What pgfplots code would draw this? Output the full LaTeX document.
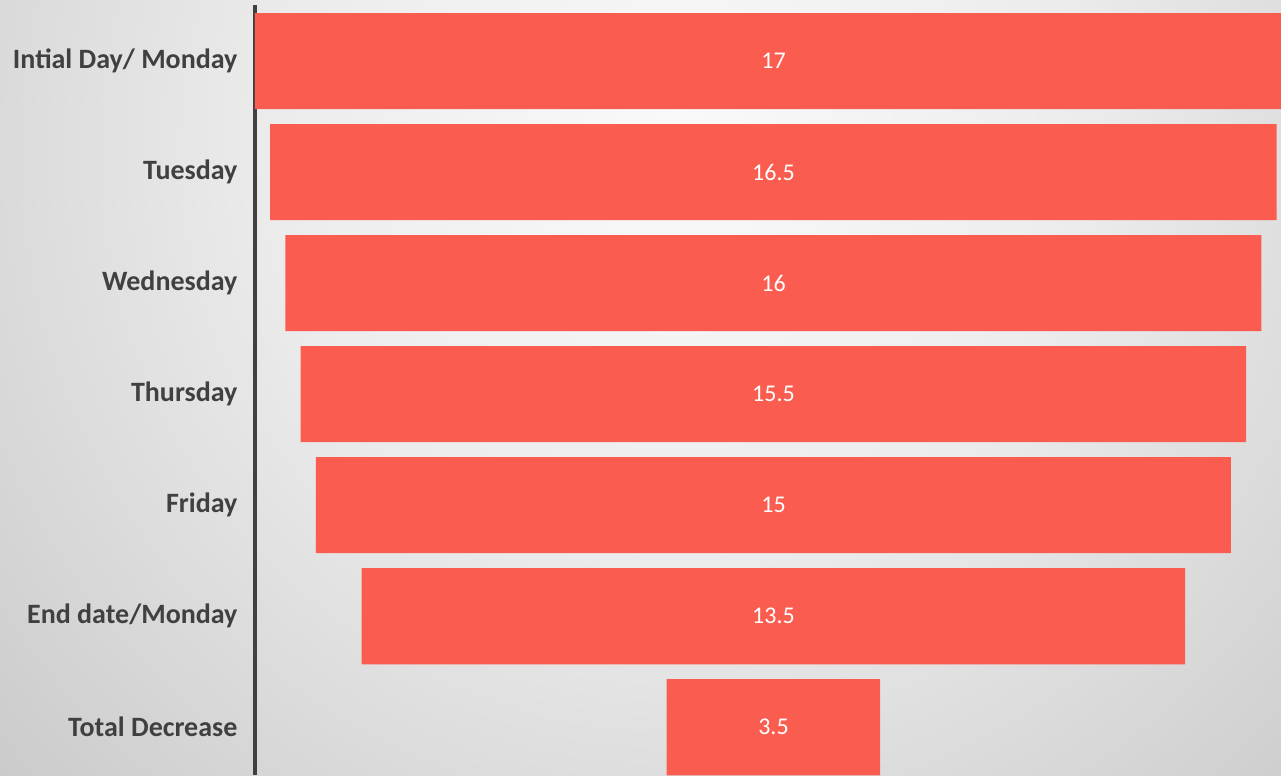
\documentclass[border=0pt]{standalone}
\usepackage{pgfplots}
\usepackage{pgfplotstable}
\pgfplotsset{compat=1.18}
\usepackage{fontspec}
\setmainfont{Carlito}
\definecolor{barred}{HTML}{FA5D50}
\definecolor{labgray}{HTML}{404040}
\definecolor{bg0}{HTML}{FAFAFA}
\definecolor{bg1}{HTML}{ECECEC}
\definecolor{bg2}{HTML}{D6D6D6}
\definecolor{bg3}{HTML}{C6C6C6}
\pgfdeclareradialshading{bgshade}{\pgfpoint{0bp}{0bp}}{color(0bp)=(bg0); color(10bp)=(bg1); color(18.75bp)=(bg2); color(25bp)=(bg3); color(50bp)=(bg3)}

\pgfplotstableread{
i off v c
0 0 17 8.5
1 0.25 16.5 8.5
2 0.5 16 8.5
3 0.75 15.5 8.5
4 1 15 8.5
5 1.75 13.5 8.5
6 6.75 3.5 8.5
}\funnel

\pgfplotsset{funnelaxis/.style={
  at={(191.25pt,0pt)}, anchor=south west, scale only axis,
  width=769.5pt, height=577.5pt,
  xmin=0, xmax=16.82, ymin=-0.505, ymax=6.43, y dir=reverse,
}}

\begin{document}
\begin{tikzpicture}[x=1pt,y=1pt]
\useasboundingbox (0,0) rectangle (960.75,581.25);
\begin{scope}
\clip (0,0) rectangle (960.75,581.25);
\shade[shading=bgshade] (-240,-281.25) rectangle (1260,1218.75);
\end{scope}
\begin{axis}[funnelaxis,
  xbar stacked, bar width=0.865,
  axis x line=none, axis y line=left,
  axis line style={draw=labgray, line width=2.6pt, -},
  ytick={0,1,2,3,4,5,6},
  yticklabels={Intial Day/ Monday, Tuesday, Wednesday, Thursday, Friday, End date/Monday, Total Decrease},
  major tick length=0pt,
  yticklabel style={font=\bfseries\fontsize{21}{21}\selectfont, text=labgray, inner sep=0pt, xshift=-13pt},
]
\addplot[draw=none, fill=none] table[x=off, y=i] {\funnel};
\addplot[fill=barred, draw=none] table[x=v, y=i] {\funnel};
\end{axis}
\begin{axis}[funnelaxis, hide axis]
\addplot[draw=none, mark=none, nodes near coords, point meta=explicit,
  nodes near coords align={center},
  every node near coord/.append style={anchor=center, text=white, font=\fontsize{18}{18}\selectfont,
    /pgf/number format/assume math mode=true}]
  table[x=c, y=i, meta=v] {\funnel};
\end{axis}
\end{tikzpicture}
\end{document}
